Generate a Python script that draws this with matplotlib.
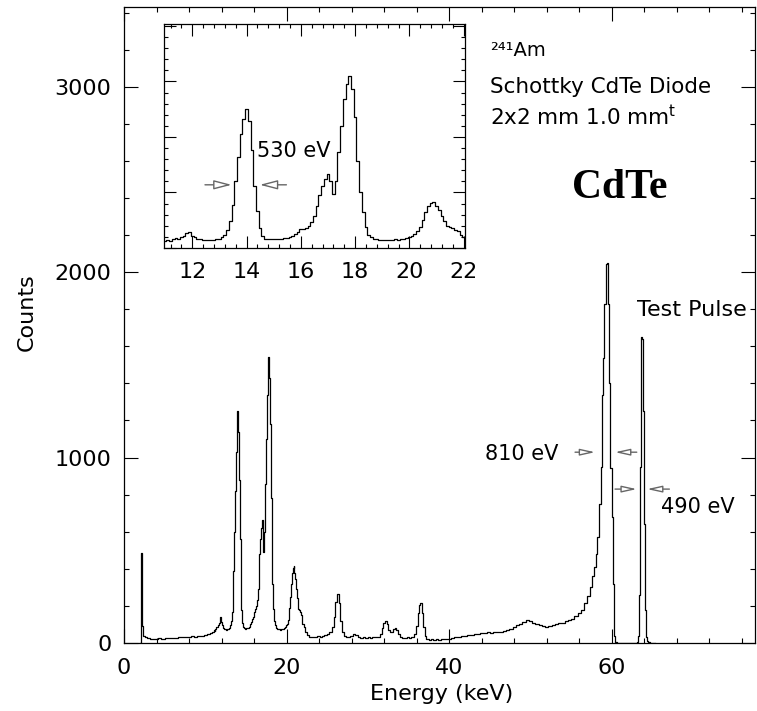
import matplotlib.pyplot as plt
from matplotlib.ticker import MultipleLocator

# 241Am spectrum, Schottky CdTe diode
energy_kev = [
    2.0, 2.1, 2.2, 2.3, 2.45, 2.7, 3.0, 3.3, 3.6, 4.0, 4.4, 4.8, 5.2, 5.6, 6.0,
    6.4, 6.8, 7.2, 7.6, 8.0, 8.4, 8.8, 9.2, 9.6, 10.0, 10.4, 10.7,
    11.0, 11.1, 11.2, 11.3, 11.4, 11.5, 11.6, 11.7, 11.8, 11.9,
    12.0, 12.1, 12.2, 12.3, 12.4, 12.5, 12.6, 12.7, 12.8, 12.9,
    13.0, 13.1, 13.2, 13.3, 13.4, 13.5, 13.6, 13.7, 13.8, 13.9,
    14.0, 14.1, 14.2, 14.3, 14.4, 14.5, 14.6, 14.7, 14.8, 14.9,
    15.0, 15.1, 15.2, 15.3, 15.4, 15.5, 15.6, 15.7, 15.8, 15.9,
    16.0, 16.1, 16.2, 16.3, 16.4, 16.5, 16.6, 16.7, 16.8, 16.9,
    17.0, 17.1, 17.2, 17.3, 17.4, 17.5, 17.6, 17.7, 17.8, 17.9,
    18.0, 18.1, 18.2, 18.3, 18.4, 18.5, 18.6, 18.7, 18.8, 18.9,
    19.0, 19.1, 19.2, 19.3, 19.4, 19.5, 19.6, 19.7, 19.8, 19.9,
    20.0, 20.1, 20.2, 20.3, 20.4, 20.5, 20.6, 20.7, 20.8, 20.9,
    21.0, 21.1, 21.2, 21.3, 21.4, 21.5, 21.6, 21.7, 21.8, 21.9, 22.0,
    22.2, 22.4, 22.6, 22.8, 23.0, 23.3, 23.6, 23.9, 24.2, 24.5, 24.8, 25.1,
    25.4, 25.7, 25.9, 26.1, 26.3, 26.5, 26.7, 26.9, 27.1, 27.4, 27.7, 28.0,
    28.3, 28.6, 28.9, 29.2, 29.5, 29.8, 30.1, 30.4, 30.7, 31.0, 31.3, 31.6,
    31.8, 32.0, 32.2, 32.4, 32.6, 32.8, 33.0, 33.2, 33.4, 33.6, 33.8, 34.0,
    34.3, 34.6, 34.9, 35.2, 35.5, 35.8, 36.0, 36.2, 36.4, 36.5, 36.7, 36.9,
    37.1, 37.3, 37.6, 37.9, 38.2, 38.5, 38.8, 39.1, 39.4, 39.7, 40.0, 40.4,
    40.8, 41.2, 41.6, 42.0, 42.4, 42.8, 43.2, 43.6, 44.0, 44.4, 44.8, 45.2,
    45.6, 46.0, 46.4, 46.8, 47.2, 47.6, 48.0, 48.4, 48.8, 49.2, 49.6, 50.0,
    50.4, 50.8, 51.2, 51.6, 52.0, 52.4, 52.8, 53.2, 53.6, 54.0, 54.4, 54.8,
    55.2, 55.6, 56.0, 56.4, 56.8, 57.1, 57.4, 57.7, 57.9, 58.1, 58.3, 58.5,
    58.7, 58.85, 59.0, 59.15, 59.3, 59.45, 59.6, 59.75, 59.9, 60.05, 60.2,
    60.35, 60.5, 60.7, 61.0, 62.0, 63.0,
    63.15, 63.3, 63.42, 63.54, 63.66, 63.78, 63.9, 64.02, 64.14, 64.26,
    64.4, 64.55, 64.8, 65.3,
]
counts = [
    0, 0, 484, 90, 40, 30, 25, 22, 24, 21, 25, 23, 27, 25, 29,
    28, 32, 30, 34, 33, 37, 35, 40, 38, 44, 48, 54,
    62, 70, 66, 78, 88, 84, 95, 110, 132, 140,
    112, 95, 82, 78, 74, 76, 72, 75, 74, 78,
    80, 95, 118, 165, 240, 390, 600, 820, 1030, 1160,
    1250, 1140, 880, 560, 330, 180, 110, 85, 80, 78,
    80, 79, 82, 80, 88, 92, 100, 112, 128, 140,
    168, 175, 182, 200, 232, 290, 380, 480, 560, 620,
    663, 600, 490, 600, 860, 1100, 1340, 1480, 1545, 1430,
    1180, 780, 500, 320, 185, 120, 95, 85, 80, 76,
    74, 76, 72, 75, 74, 78, 76, 80, 84, 88,
    95, 105, 125, 155, 190, 250, 320, 380, 405, 413,
    380, 345, 290, 240, 200, 185, 180, 165, 150, 120, 100,
    85, 62, 45, 34, 30, 34, 31, 36, 33, 38, 42, 48,
    58, 85, 140, 220, 266, 215, 120, 62, 40, 32, 30, 36,
    46, 44, 34, 28, 30, 27, 30, 29, 31, 30, 34, 48,
    80, 108, 120, 100, 72, 58, 62, 76, 82, 70, 48, 34,
    28, 26, 30, 28, 34, 50, 90, 160, 205, 216, 160, 85,
    40, 24, 18, 20, 17, 20, 18, 22, 19, 22, 24, 27,
    30, 32, 36, 38, 42, 44, 48, 50, 54, 52, 57, 55,
    60, 58, 62, 66, 70, 78, 85, 96, 104, 112, 123, 116,
    108, 104, 96, 92, 88, 94, 98, 104, 110, 108, 116, 122,
    132, 145, 160, 180, 215, 255, 300, 360, 410, 480, 570, 750,
    950, 1340, 1535, 1830, 2045, 2050, 1830, 1400, 945, 680, 320,
    40, 8, 2, 0, 0, 0,
    5, 40, 260, 950, 1651, 1640, 1250, 640, 180, 30,
    12, 4, 0, 0,
]

W, H = 757, 711
plt.rcParams['font.family'] = 'DejaVu Sans'
plt.rcParams['font.size'] = 15

fig = plt.figure(figsize=(W / 100, H / 100), dpi=100)

# main panel
ax = fig.add_axes([124 / W, 1 - 643 / H, 631 / W, 636 / H])
ax.plot(energy_kev, counts, drawstyle='steps-mid', color='black', lw=0.9)
ax.set_xlim(0, 77.6)
ax.set_ylim(0, 3430)
ax.xaxis.set_major_locator(MultipleLocator(20))
ax.xaxis.set_minor_locator(MultipleLocator(4))
ax.yaxis.set_major_locator(MultipleLocator(1000))
ax.yaxis.set_minor_locator(MultipleLocator(200))
ax.tick_params(which='both', direction='in', top=True, right=True, width=0.8,
               labelsize=16)
ax.tick_params(which='major', length=10)
ax.tick_params(which='minor', length=3.6)
ax.tick_params(axis='x', pad=11)
ax.tick_params(axis='y', pad=9)
for s in ax.spines.values():
    s.set_linewidth(0.9)

fig.text(442 / W, 1 - 694 / H, 'Energy (keV)', ha='center', va='center', fontsize=16)
fig.text(27 / W, 1 - 312 / H, 'Counts', ha='center', va='center', rotation=90,
         fontsize=16)

# FWHM markers
arrow_main = dict(arrowstyle='-|>,head_length=0.9,head_width=0.2', fc='white',
                  ec='0.4', lw=1.0, shrinkA=0, shrinkB=0, mutation_scale=10)
ax.annotate('', xy=(57.93, 1029), xytext=(55.47, 1029), arrowprops=arrow_main)
ax.annotate('', xy=(60.39, 1029), xytext=(63.06, 1029), arrowprops=arrow_main)
ax.annotate('', xy=(63.06, 830), xytext=(60.39, 830), arrowprops=arrow_main)
ax.annotate('', xy=(64.33, 830), xytext=(67.07, 830), arrowprops=arrow_main)
ax.text(53.4, 1019, '810 eV', ha='right', va='center', fontsize=15)
ax.text(66.0, 735, '490 eV', ha='left', va='center', fontsize=15)
ax.text(63.06, 1796, 'Test Pulse', ha='left', va='center', fontsize=16)

fig.text(490 / W, 1 - 50 / H, '²⁴¹Am', ha='left', va='center', fontsize=14)
fig.text(490 / W, 1 - 87 / H, 'Schottky CdTe Diode', ha='left', va='center',
         fontsize=15.5)
fig.text(490 / W, 1 - 117 / H, '2x2 mm 1.0 mm$^{\\mathrm{t}}$', ha='left',
         va='center', fontsize=15.5)
fig.text(620 / W, 1 - 188 / H, 'CdTe', ha='center', va='center', fontsize=30,
         family='Liberation Serif', weight='bold')

# inset: zoom on the 11-22 keV lines
axi = fig.add_axes([164 / W, 1 - 248 / H, 301 / W, 224 / H])
axi.plot(energy_kev, counts, drawstyle='steps-mid', color='black', lw=0.9)
axi.set_xlim(10.96, 22.05)
axi.set_ylim(0, 2017)
axi.xaxis.set_major_locator(MultipleLocator(2))
axi.xaxis.set_minor_locator(MultipleLocator(0.4))
axi.yaxis.set_major_locator(MultipleLocator(500))
axi.yaxis.set_minor_locator(MultipleLocator(100))
axi.tick_params(which='both', direction='in', top=True, right=True, width=0.8,
                labelsize=16, labelleft=False)
axi.tick_params(which='major', length=8.6)
axi.tick_params(which='minor', length=3)
axi.tick_params(axis='x', pad=10)
for s in axi.spines.values():
    s.set_linewidth(0.9)

arrow_inset = dict(arrowstyle='-|>,head_length=1.08,head_width=0.28', fc='white',
                   ec='0.4', lw=1.0, shrinkA=0, shrinkB=0, mutation_scale=10)
axi.annotate('', xy=(13.45, 569), xytext=(12.47, 569), arrowprops=arrow_inset)
axi.annotate('', xy=(14.49, 569), xytext=(15.47, 569), arrowprops=arrow_inset)
axi.text(14.37, 869, '530 eV', ha='left', va='center', fontsize=15)

fig.savefig('out.png', dpi=100)
